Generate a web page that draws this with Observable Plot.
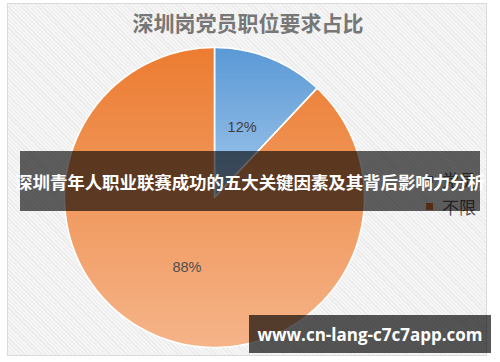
<!DOCTYPE html>
<html>
<head>
<meta charset="utf-8">
<script src="https://cdn.jsdelivr.net/npm/d3@7"></script>
<script src="https://cdn.jsdelivr.net/npm/@observablehq/plot@0.6"></script>
<style>
  html, body { margin: 0; padding: 0; background: #ffffff; }
  #root { position: relative; width: 500px; height: 362px; overflow: hidden; font-family: "Noto Sans CJK SC", "Noto Sans", sans-serif; }
  #frame { position: absolute; left: 7px; top: 3px; width: 480px; height: 353px; box-sizing: border-box;
    border: 1px solid #dadada;
    background: repeating-linear-gradient(45deg, #ebebeb 0px, #ebebeb 1px, #f5f5f5 1px, #f5f5f5 3px); }
  #title { position: absolute; left: 0; width: 496px; top: 6px; text-align: center; font-size: 21px; font-weight: 700; color: #777777; line-height: 32px; }
  #chart { position: absolute; left: 0; top: 0; }
  #legend { position: absolute; left: 426px; top: 166px; font-size: 17px; color: #5a5a5a; line-height: 27px; }
  #legend .row { display: flex; align-items: center; }
  #legend .sw { width: 7px; height: 7px; margin-right: 9px; }
  #banner { position: absolute; left: 20px; top: 151px; width: 460px; height: 60px; background: rgba(0,0,0,0.62);
    color: #fff; font-weight: 700; font-size: 17.5px; display: flex; align-items: center; justify-content: center; white-space: nowrap; letter-spacing: -0.1px; }
  #wm { position: absolute; left: 249px; top: 315px; width: 242px; height: 38px; background: rgba(0,0,0,0.66);
    color: #fff; font-weight: 700; font-size: 17px; font-family: "Open Sans", "DejaVu Sans", sans-serif; display: flex; align-items: center; justify-content: center; white-space: nowrap; }
</style>
</head>
<body>
<div id="root">
  <div id="frame"></div>
  <div id="title"></div>
  <div id="chart"></div>
  <div id="legend"></div>
  <div id="banner"></div>
  <div id="wm"></div>
</div>
<script>
// ---- data ----
const chartTitle = "深圳岗党员职位要求占比";
const categories = ["党员", "不限"];
const shares = [12, 88];
const sliceLabels = ["12%", "88%"];
const bannerText = "深圳青年人职业联赛成功的五大关键因素及其背后影响力分析";
const watermarkText = "www.cn-lang-c7c7app.com";

// ---- styles ----
const gradientStops = {
  "党员": ["#5a99d6", "#a2c7eb"],
  "不限": ["#ec7c31", "#f5b489"]
};
const legendColors = { "党员": "#4f86bf", "不限": "#e0773a" };

document.getElementById("title").textContent = chartTitle;
document.getElementById("banner").textContent = bannerText;
document.getElementById("wm").textContent = watermarkText;

// legend
const legend = d3.select("#legend");
categories.forEach(c => {
  const row = legend.append("div").attr("class", "row");
  row.append("div").attr("class", "sw").style("background", legendColors[c]);
  row.append("span").text(c);
});

// pie geometry from data
const arcs = d3.pie().sort(null).value(d => d)(shares);
const polys = [];
arcs.forEach((a, i) => {
  const name = categories[i];
  polys.push({ name, x: 0, y: 0 });
  const n = Math.max(2, Math.ceil((a.endAngle - a.startAngle) / (Math.PI / 180)));
  for (let k = 0; k <= n; k++) {
    const t = a.startAngle + (a.endAngle - a.startAngle) * k / n;
    polys.push({ name, x: Math.sin(t), y: Math.cos(t) });
  }
  polys.push({ name, x: 0, y: 0 });
});
const labelData = arcs.map((a, i) => {
  const m = (a.startAngle + a.endAngle) / 2;
  return { x: 0.5 * Math.sin(m), y: 0.5 * Math.cos(m), text: sliceLabels[i], color: i === 0 ? "#3f3f3f" : "#4f4f4f" };
});

const defsMark = () => {
  const g = d3.create("svg:g");
  const defs = g.append("defs");
  categories.forEach((c, i) => {
    const lg = defs.append("linearGradient").attr("id", "grad" + i).attr("x1", 0).attr("y1", 0).attr("x2", 0).attr("y2", 1);
    lg.append("stop").attr("offset", "0%").attr("stop-color", gradientStops[c][0]);
    lg.append("stop").attr("offset", "100%").attr("stop-color", gradientStops[c][1]);
  });
  return g.node();
};

const chart = Plot.plot({
  width: 500,
  height: 362,
  marginLeft: 64,
  marginRight: 136,
  marginTop: 47,
  marginBottom: 15,
  x: { domain: [-1, 1], axis: null },
  y: { domain: [-1, 1], axis: null },
  style: { background: "transparent", fontFamily: "Liberation Sans, Arial, sans-serif" },
  marks: [
    defsMark,
    ...categories.map((c, i) => Plot.line(polys.filter(d => d.name === c), {
      x: "x", y: "y", fill: `url(#grad${i})`, stroke: "#ffffff", strokeWidth: 1.6, strokeLinejoin: "round"
    })),
    Plot.text(labelData, { x: "x", y: "y", text: "text", fill: "color", fontSize: 14.5 })
  ]
});
document.getElementById("chart").appendChild(chart);
</script>
</body>
</html>
